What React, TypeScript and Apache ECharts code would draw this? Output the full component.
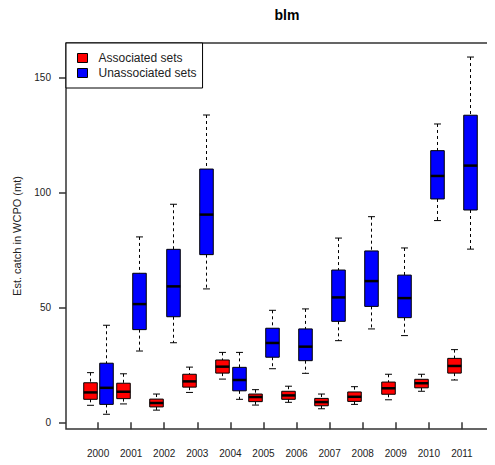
import React, { useEffect, useRef } from "react";
import * as echarts from "echarts";

const years = [2000, 2001, 2002, 2003, 2004, 2005, 2006, 2007, 2008, 2009, 2010, 2011];

// [min, q1, median, q3, max]
const associated = [
  [7.4, 10.0, 13.0, 17.2, 21.6],
  [8.0, 10.3, 13.3, 17.0, 21.1],
  [5.3, 6.7, 8.4, 10.1, 12.3],
  [13.0, 15.3, 17.8, 20.9, 24.0],
  [18.8, 21.4, 24.2, 27.1, 30.4],
  [7.5, 9.0, 11.0, 12.3, 14.2],
  [8.7, 10.0, 11.7, 13.5, 15.7],
  [5.9, 7.2, 8.8, 10.4, 12.3],
  [7.8, 9.1, 11.1, 13.2, 15.5],
  [9.8, 12.2, 14.8, 17.5, 20.9],
  [13.5, 15.0, 17.0, 18.7, 20.9],
  [18.4, 21.4, 24.5, 27.8, 31.6],
];

const unassociated = [
  [3.5, 7.8, 15.0, 25.7, 42.2],
  [31.0, 40.3, 51.4, 64.8, 80.6],
  [34.6, 45.9, 59.1, 75.2, 94.8],
  [58.0, 72.9, 90.3, 110.1, 133.6],
  [10.0, 13.7, 18.4, 23.9, 30.4],
  [23.3, 28.3, 34.5, 40.9, 48.7],
  [21.3, 26.8, 32.9, 40.6, 49.3],
  [35.5, 43.9, 54.3, 66.2, 80.1],
  [40.6, 50.4, 61.4, 74.5, 89.4],
  [37.7, 45.5, 54.0, 64.0, 75.8],
  [87.7, 97.1, 107.1, 118.1, 129.7],
  [75.3, 92.3, 111.6, 133.5, 158.8],
];

const yTicks = [0, 50, 100, 150];

const FONT = "'Liberation Sans', Arial, Helvetica, sans-serif";
const BOX_W = 0.41; // in years
const CAP_W = 0.21;

function makeRender(offset: number, fill: string) {
  return (params: any, api: any) => {
    const x = api.value(0) + offset;
    const pMin = api.coord([x, api.value(1)]);
    const pQ1 = api.coord([x, api.value(2)]);
    const pMed = api.coord([x, api.value(3)]);
    const pQ3 = api.coord([x, api.value(4)]);
    const pMax = api.coord([x, api.value(5)]);
    const bw = api.size([BOX_W, 0])[0];
    const cw = api.size([CAP_W, 0])[0];
    const cx = Math.round(pMed[0]) + 0.5;
    const dash = { stroke: "#000", lineWidth: 1, lineDash: [3, 3] };
    const solid = { stroke: "#000", lineWidth: 1 };
    return {
      type: "group",
      children: [
        { type: "line", shape: { x1: cx, y1: pMax[1], x2: cx, y2: pQ3[1] }, style: dash },
        { type: "line", shape: { x1: cx, y1: pQ1[1], x2: cx, y2: pMin[1] }, style: dash },
        { type: "line", shape: { x1: cx - cw / 2, y1: pMax[1], x2: cx + cw / 2, y2: pMax[1] }, style: solid },
        { type: "line", shape: { x1: cx - cw / 2, y1: pMin[1], x2: cx + cw / 2, y2: pMin[1] }, style: solid },
        {
          type: "rect",
          shape: { x: cx - bw / 2, y: pQ3[1], width: bw, height: pQ1[1] - pQ3[1] },
          style: { fill, stroke: "#000", lineWidth: 1 },
        },
        {
          type: "line",
          shape: { x1: cx - bw / 2, y1: pMed[1], x2: cx + bw / 2, y2: pMed[1] },
          style: { stroke: "#000", lineWidth: 2.5 },
        },
      ],
    };
  };
}

export default function App() {
  const ref = useRef<HTMLDivElement>(null);
  useEffect(() => {
    if (!ref.current) return;
    const chart = echarts.init(ref.current, null, { renderer: "svg" });
    const assocData = years.map((y, i) => [y, ...associated[i]]);
    const unassocData = years.map((y, i) => [y, ...unassociated[i]]);
    chart.setOption({
      animation: false,
      backgroundColor: "#fff",
      textStyle: { fontFamily: FONT },
      title: {
        text: "blm",
        left: 282,
        textAlign: "center",
        top: 3,
        textStyle: { fontFamily: FONT, fontSize: 14, fontWeight: "bold", color: "#000" },
      },
      legend: {
        left: 66,
        top: 43,
        orient: "vertical",
        icon: "rect",
        itemWidth: 10,
        itemHeight: 9,
        itemGap: 1,
        padding: [8, 6, 8, 11],
        borderColor: "#000",
        borderWidth: 1,
        backgroundColor: "#fff",
        itemStyle: { borderColor: "#000", borderWidth: 1 },
        textStyle: { fontFamily: FONT, fontSize: 12, color: "#222", lineHeight: 14, padding: [0, 0, 0, 6] },
        data: ["Associated sets", "Unassociated sets"],
      },
      grid: {
        left: 66,
        top: 43,
        width: 432,
        height: 386,
        show: true,
        borderColor: "#333",
        borderWidth: 1.5,
        backgroundColor: "transparent",
      },
      xAxis: {
        type: "value",
        min: 1999.03,
        max: 2012.0,
        axisLine: { show: false },
        splitLine: { show: false },
        axisTick: { show: true, customValues: years, length: 7, lineStyle: { color: "#333", width: 1.5 } },
        axisLabel: {
          customValues: years,
          formatter: (v: number) => String(v),
          margin: 19,
          fontSize: 10,
          color: "#222",
          fontFamily: FONT,
        },
      },
      yAxis: {
        type: "value",
        min: -2.9,
        max: 164.9,
        name: "Est. catch in WCPO (mt)",
        nameLocation: "middle",
        nameGap: 44,
        nameTextStyle: { fontFamily: FONT, fontSize: 11, color: "#222" },
        axisLine: { show: false },
        splitLine: { show: false },
        axisTick: { show: true, customValues: yTicks, length: 7, lineStyle: { color: "#333", width: 1.5 } },
        axisLabel: {
          customValues: yTicks,
          formatter: (v: number) => String(v),
          margin: 15,
          fontSize: 10,
          color: "#222",
          fontFamily: FONT,
        },
      },
      series: [
        {
          name: "Associated sets",
          type: "custom",
          renderItem: makeRender(-0.25, "#ff0000"),
          itemStyle: { color: "#ff0000" },
          encode: { x: 0, y: [1, 2, 3, 4, 5] },
          data: assocData,
          z: 3,
        },
        {
          name: "Unassociated sets",
          type: "custom",
          renderItem: makeRender(0.25, "#0000ff"),
          itemStyle: { color: "#0000ff" },
          encode: { x: 0, y: [1, 2, 3, 4, 5] },
          data: unassocData,
          z: 3,
        },
      ],
    });
    return () => chart.dispose();
  }, []);
  return <div ref={ref} style={{ width: 495, height: 465, margin: -8 }} />;
}
